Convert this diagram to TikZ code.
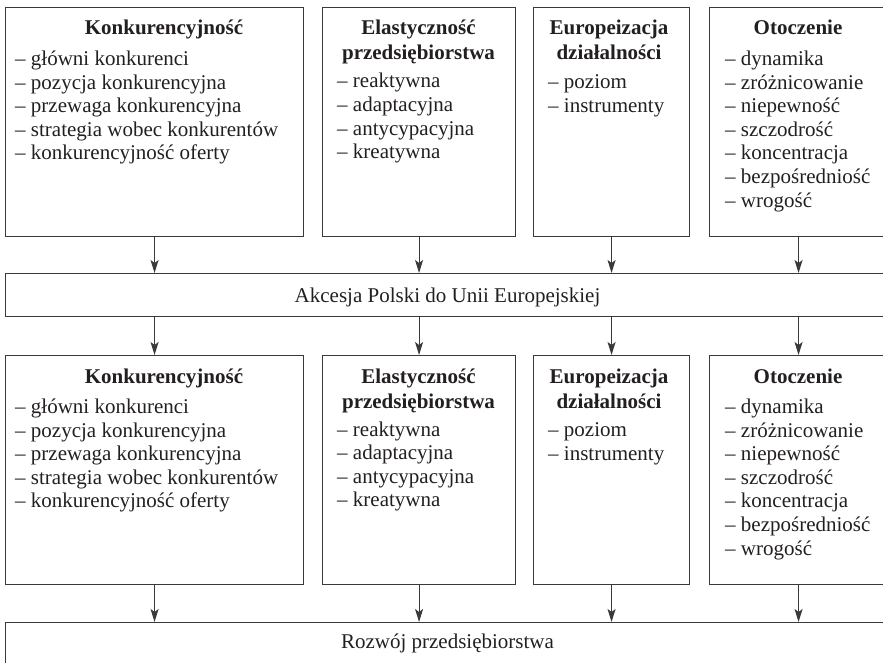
\documentclass[tikz,border=0pt]{standalone}
\usepackage{fontspec}
\setmainfont{Liberation Serif}
\usetikzlibrary{arrows.meta}
\definecolor{ink}{HTML}{231F20}
\definecolor{linegray}{HTML}{3A3A3A}
\newcommand{\hdrfont}{\fontsize{21}{25}\selectfont\bfseries}
\newcommand{\itmfont}{\fontsize{21}{23.6}\selectfont}
% contents of the four boxes (repeated in both rows)
\newcommand{\konktitle}{Konkurencyjność}
\newcommand{\konkitems}{– główni konkurenci\\ – pozycja konkurencyjna\\ – przewaga konkurencyjna\\ – strategia wobec konkurentów\\ – konkurencyjność oferty}
\newcommand{\elasttitle}{Elastyczność\\ przedsiębiorstwa}
\newcommand{\elastitems}{– reaktywna\\ – adaptacyjna\\ – antycypacyjna\\ – kreatywna}
\newcommand{\eurotitle}{Europeizacja\\ działalności}
\newcommand{\euroitems}{– poziom\\ – instrumenty}
\newcommand{\otoctitle}{Otoczenie}
\newcommand{\otocitems}{– dynamika\\ – zróżnicowanie\\ – niepewność\\ – szczodrość\\ – koncentracja\\ – bezpośredniość\\ – wrogość}
\begin{document}
\begin{tikzpicture}[x=1pt,y=-1pt,
  frame/.style={draw=linegray, line width=1.1pt, inner sep=0pt, anchor=north west},
  ttl/.style={font=\hdrfont, anchor=base, inner sep=0pt, text=ink},
  lst/.style={font=\itmfont, anchor=base west, inner sep=0pt, text=ink},
  mid/.style={font=\itmfont, anchor=base, inner sep=0pt, text=ink},
  flow/.style={draw=linegray, line width=1.1pt, -{Stealth[length=13pt,width=8pt,inset=3pt]}}]
\useasboundingbox (0,0) rectangle (883,663);
\clip (0,0) rectangle (883,663);

% two rows of four boxes
\foreach \r/\t in {1/7, 2/355} {
  \node[frame, minimum width=298pt, minimum height=229pt] (k\r) at (5,\t) {};
  \node[frame, minimum width=193pt, minimum height=229pt] (e\r) at (322,\t) {};
  \node[frame, minimum width=156pt, minimum height=229pt] (u\r) at (533,\t) {};
  \node[frame, minimum width=178pt, minimum height=229pt] (o\r) at (709,\t) {};
  % headings
  \node[ttl] (kt\r) at (164,\t+28) {\begin{tabular}[t]{@{}c@{}}\konktitle\end{tabular}};
  \node[ttl] (et\r) at (418.5,\t+28) {\begin{tabular}[t]{@{}c@{}}\elasttitle\end{tabular}};
  \node[ttl] (ut\r) at (609,\t+28) {\begin{tabular}[t]{@{}c@{}}\eurotitle\end{tabular}};
  \node[ttl] (ot\r) at (798,\t+28) {\begin{tabular}[t]{@{}c@{}}\otoctitle\end{tabular}};
  % item lists
  \node[lst] (kl\r) at (15,\t+58.5) {\begin{tabular}[t]{@{}l@{}}\konkitems\end{tabular}};
  \node[lst] (el\r) at (337,\t+81) {\begin{tabular}[t]{@{}l@{}}\elastitems\end{tabular}};
  \node[lst] (ul\r) at (548,\t+81.5) {\begin{tabular}[t]{@{}l@{}}\euroitems\end{tabular}};
  \node[lst] (ol\r) at (725,\t+58.5) {\begin{tabular}[t]{@{}l@{}}\otocitems\end{tabular}};
}

% full-width bars
\node[frame, minimum width=890pt, minimum height=43pt] (akc) at (5,273) {};
\node[mid] (akct) at (447.5,302) {Akcesja Polski do Unii Europejskiej};
\node[frame, minimum width=890pt, minimum height=50pt] (roz) at (5,622) {};
\node[mid] (rozt) at (447.5,648) {Rozwój przedsiębiorstwa};

% connectors
\foreach \b in {k,e,u,o} {
  \draw[flow] (\b1.south) -- (\b1.south |- akc.north);
  \draw[flow] (\b2.north |- akc.south) -- (\b2.north);
  \draw[flow] (\b2.south) -- (\b2.south |- roz.north);
}
\end{tikzpicture}
\end{document}
